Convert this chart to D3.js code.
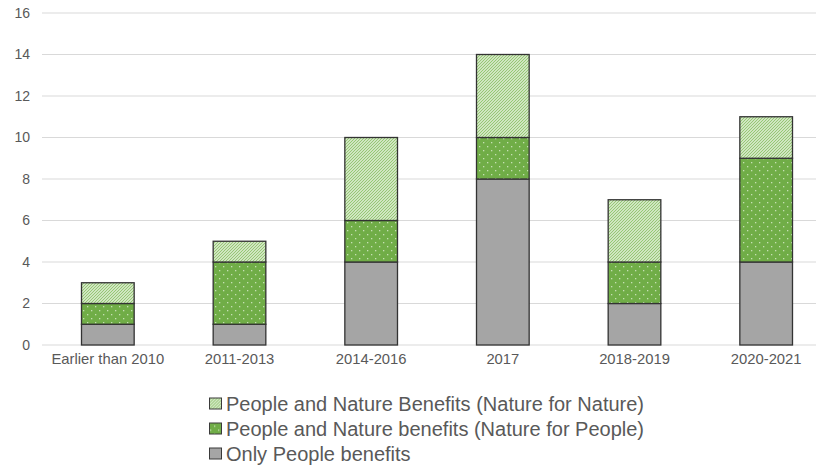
<!DOCTYPE html>
<html>
<head>
<meta charset="utf-8">
<script src="https://cdn.jsdelivr.net/npm/d3@7"></script>
<style>
  body { margin: 0; background: #fff; }
  svg { display: block; font-family: "Liberation Sans", Arial, sans-serif; }
  .axis text { fill: #595959; }
</style>
</head>
<body>
<div id="chart-area"></div>
<script>
// Chart data
let categories = ['Earlier than 2010', '2011-2013', '2014-2016', '2017', '2018-2019', '2020-2021'];
let onlyPeople = [1, 1, 4, 8, 2, 4];
let natureForPeople = [1, 3, 2, 2, 2, 5];
let natureForNature = [1, 1, 4, 4, 3, 2];
let yTicks = [0, 2, 4, 6, 8, 10, 12, 14, 16];

let seriesNames = [
  'Only People benefits',
  'People and Nature benefits (Nature for People)',
  'People and Nature Benefits (Nature for Nature)'
];

// SVG drawing area
let margin = { top: 13, right: 0, bottom: 120, left: 42 };
let width = 790,
  height = 345 - margin.top;

let root = d3
  .select('#chart-area')
  .append('svg')
  .attr('width', 816)
  .attr('height', 465);

// Patterns
let defs = root.append('defs');

let stripes = defs
  .append('pattern')
  .attr('id', 'stripes')
  .attr('patternUnits', 'userSpaceOnUse')
  .attr('width', 3)
  .attr('height', 3);
stripes.append('rect').attr('width', 3).attr('height', 3).attr('fill', '#e9f4e1');
stripes
  .append('path')
  .attr('d', 'M-1,1 l2,-2 M0,3 l3,-3 M2,4 l2,-2')
  .attr('stroke', '#92c56f')
  .attr('stroke-width', 1.1);

let dots = defs
  .append('pattern')
  .attr('id', 'dots')
  .attr('patternUnits', 'userSpaceOnUse')
  .attr('width', 8)
  .attr('height', 8);
dots.append('rect').attr('width', 8).attr('height', 8).attr('fill', '#70ad47');
dots.append('rect').attr('x', 1).attr('y', 1).attr('width', 1.3).attr('height', 1.3).attr('fill', '#c5e0b3');
dots.append('rect').attr('x', 5).attr('y', 5).attr('width', 1.3).attr('height', 1.3).attr('fill', '#c5e0b3');

let fills = ['#a5a5a5', 'url(#dots)', 'url(#stripes)'];

let svg = root
  .append('g')
  .attr('transform', 'translate(' + margin.left + ',' + margin.top + ')');

// Scales
let x = d3.scaleBand().domain(categories).range([0, width]).paddingInner(0.6).paddingOuter(0.3);
let y = d3.scaleLinear().domain([0, 16]).range([height, 0]);

// Gridlines
svg
  .selectAll('.grid')
  .data(yTicks)
  .enter()
  .append('line')
  .attr('class', 'grid')
  .attr('x1', 0)
  .attr('x2', width)
  .attr('y1', d => y(d))
  .attr('y2', d => y(d))
  .attr('stroke', '#d9d9d9')
  .attr('stroke-width', 1);

// Axes
let yAxis = svg
  .append('g')
  .attr('class', 'axis')
  .call(d3.axisLeft(y).tickValues(yTicks).tickSize(0).tickPadding(12));
yAxis.select('.domain').remove();
yAxis.selectAll('text').style('font-size', '14px');

let xAxis = svg
  .append('g')
  .attr('class', 'axis')
  .attr('transform', `translate(0, ${height})`)
  .call(d3.axisBottom(x).tickSize(0).tickPadding(8));
xAxis.select('.domain').remove();
xAxis.selectAll('text').style('font-size', '14.8px');

// Stacked bars
let rows = categories.map((c, i) => ({
  cat: c,
  s0: onlyPeople[i],
  s1: natureForPeople[i],
  s2: natureForNature[i]
}));
let stack = d3.stack().keys(['s0', 's1', 's2'])(rows);

svg
  .selectAll('.layer')
  .data(stack)
  .enter()
  .append('g')
  .attr('class', 'layer')
  .attr('fill', (d, i) => fills[i])
  .selectAll('rect')
  .data(d => d)
  .enter()
  .append('rect')
  .attr('x', d => x(d.data.cat))
  .attr('y', d => y(d[1]))
  .attr('width', x.bandwidth())
  .attr('height', d => y(d[0]) - y(d[1]))
  .attr('stroke', '#333')
  .attr('stroke-width', 1.3);

// Legend
let legend = root
  .append('g')
  .selectAll('.legend')
  .data([2, 1, 0])
  .enter()
  .append('g')
  .attr('transform', (d, i) => `translate(209, ${403.5 + i * 25})`);

legend
  .append('rect')
  .attr('x', 0.5)
  .attr('y', -5.5)
  .attr('width', 12)
  .attr('height', 11)
  .attr('fill', d => fills[d])
  .attr('stroke', '#3a3a3a')
  .attr('stroke-width', 1);

legend
  .append('text')
  .attr('x', 17)
  .attr('dy', '0.35em')
  .attr('fill', '#595959')
  .style('font-size', '20px')
  .text(d => seriesNames[d]);
</script>
</body>
</html>
